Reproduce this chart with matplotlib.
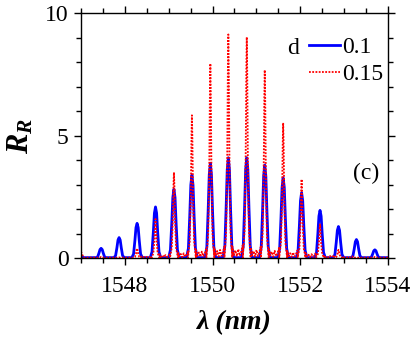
import numpy as np
import matplotlib
matplotlib.use('Agg')
import matplotlib.pyplot as plt
from matplotlib.ticker import MultipleLocator

# peak centres (nm) and peak heights
peak_lam = [1547.46, 1547.87, 1548.28, 1548.70, 1549.12, 1549.53, 1549.95, 1550.36,
            1550.78, 1551.19, 1551.61, 1552.03, 1552.45, 1552.87, 1553.28, 1553.70]
rr_d010 = [0.40, 0.84, 1.42, 2.09, 2.81, 3.39, 3.87, 4.10,
           4.10, 3.80, 3.28, 2.67, 1.95, 1.29, 0.76, 0.34]
rr_d015 = [0.05, 0.03, 0.40, 1.60, 3.50, 5.83, 7.94, 9.13,
           9.02, 7.68, 5.52, 3.22, 1.38, 0.34, 0.03, 0.05]
# level of the side-lobe ripple between neighbouring peaks (d=0.15)
ripple_d015 = [0.0, 0.0, 0.05, 0.15, 0.25, 0.35, 0.45, 0.5,
               0.45, 0.4, 0.3, 0.2, 0.1, 0.05, 0.0]
# values at the plot edges
edge_lam = [1547.0, 1554.0]
edge_d010 = [0.10, 0.02]
edge_d015 = [0.27, 0.02]

labels = ['0.1', '0.15']
xticks = [1548, 1550, 1552, 1554]
yticks = [0, 5, 10]

# shape of one peak (offset in nm, fraction of height)
BLUE_DX = [-0.12, -0.08, -0.05, -0.025, 0.0, 0.025, 0.05, 0.08, 0.12]
BLUE_F = [0.0, 0.12, 0.5, 0.88, 1.0, 0.88, 0.5, 0.12, 0.0]
RED_DX = [-0.09, -0.05, -0.025, -0.01, 0.0, 0.01, 0.025, 0.05, 0.09]
RED_F = [0.0, 0.12, 0.45, 0.85, 1.0, 0.85, 0.45, 0.12, 0.0]
RIP_POS = [0.22, 0.3, 0.38, 0.46, 0.54, 0.62, 0.7, 0.78]
RIP_F = [0.9, 0.2, 0.6, 0.1, 0.7, 0.15, 0.5, 1.0]


def build(heights, dx, frac, edges, ripple=None):
  xs = [edge_lam[0], edge_lam[0] + 0.06]
  ys = [edges[0], 0.02]
  for i, (c, h) in enumerate(zip(peak_lam, heights)):
    for d, f in zip(dx, frac):
      xs.append(c + d)
      ys.append(max(h * f, 0.02))
    if ripple is not None and i < len(peak_lam) - 1:
      gap = peak_lam[i + 1] - c
      for p, f in zip(RIP_POS, RIP_F):
        xs.append(c + p * gap)
        ys.append(0.02 + ripple[i] * f)
  xs += [edge_lam[1] - 0.06, edge_lam[1]]
  ys += [0.02, edges[1]]
  return xs, ys


plt.rcParams['font.family'] = 'Liberation Serif'
plt.rcParams['mathtext.fontset'] = 'custom'
plt.rcParams['mathtext.it'] = 'Liberation Serif:italic:bold'
plt.rcParams['mathtext.rm'] = 'Liberation Serif:bold'

fig = plt.figure(figsize=(4.15, 3.37), dpi=100)
ax = fig.add_axes([0.195, 0.234, 0.74, 0.727])

bx, by = build(rr_d010, BLUE_DX, BLUE_F, edge_d010)
rx, ry = build(rr_d015, RED_DX, RED_F, edge_d015, ripple_d015)
ax.plot(bx, by, color='#0000ff', lw=2.0, label=labels[0])
ax.plot(rx, ry, color='#ff0000', lw=1.3, ls=(0, (1, 0.8)), label=labels[1])

ax.set_xlim(1547, 1554)
ax.set_ylim(0, 10)
ax.set_xticks(xticks)
ax.set_yticks(yticks)
ax.xaxis.set_minor_locator(MultipleLocator(0.5))
ax.yaxis.set_minor_locator(MultipleLocator(1))
ax.tick_params(which='both', direction='out', top=True, right=True,
               labeltop=False, labelright=False, labelsize=17, width=1.0)
ax.tick_params(which='major', length=5, pad=4)
ax.tick_params(which='minor', length=3.5)
ax.tick_params(axis='x', which='major', pad=8)
for s in ax.spines.values():
  s.set_linewidth(1.0)

ax.set_xlabel('λ (nm)', fontsize=20, fontweight='bold', fontstyle='italic', labelpad=9)
ax.set_ylabel('$R_R$', fontsize=22, labelpad=7)

ax.text(0.69, 0.855, 'd', transform=ax.transAxes, fontsize=17, ha='center', va='center')
ax.text(1553.5, 3.47, '(c)', fontsize=17, ha='center', va='center')
ax.legend(loc='upper left', bbox_to_anchor=(0.735, 0.915), frameon=False, fontsize=17,
          handlelength=1.3, handletextpad=0.1, labelspacing=0.25, borderpad=0.1,
          borderaxespad=0.0)

fig.savefig('out.png', dpi=100)
